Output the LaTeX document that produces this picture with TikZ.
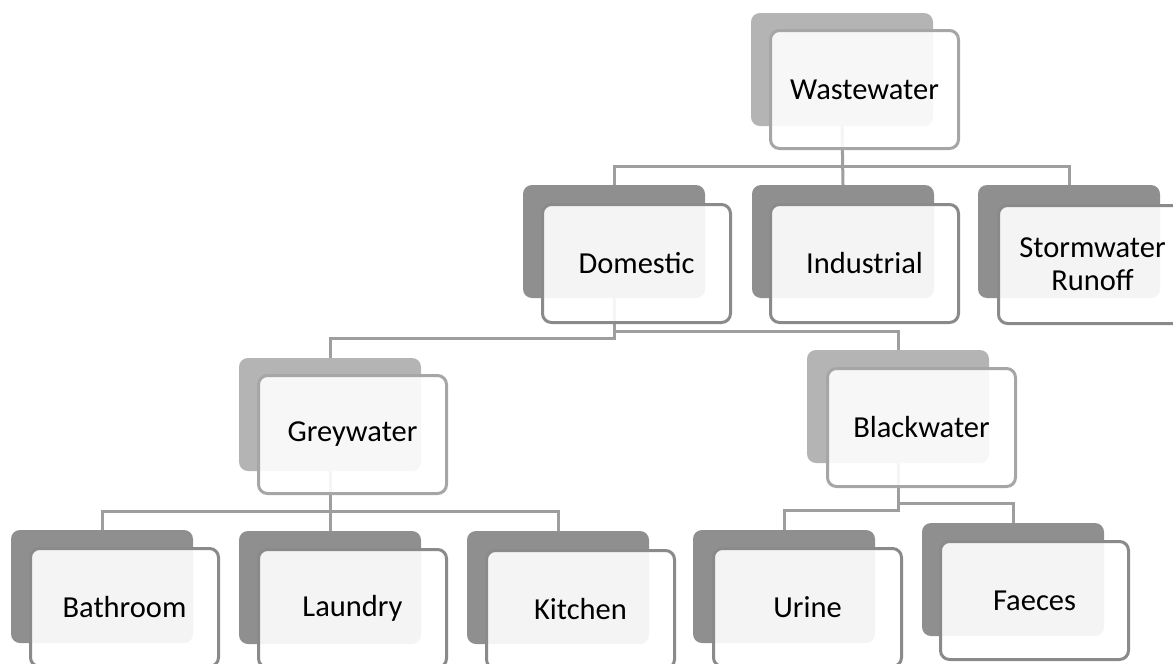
\documentclass[tikz,border=0pt]{standalone}
\usepackage{fontspec}
\setmainfont{Carlito}
\usetikzlibrary{calc}
\definecolor{backdark}{HTML}{8F8F8F}
\definecolor{backlight}{HTML}{B4B4B4}
\definecolor{edgedark}{HTML}{8A8A8A}
\definecolor{edgelight}{HTML}{A6A6A6}
\definecolor{linkgray}{HTML}{9E9E9E}
\begin{document}
\begin{tikzpicture}[x=1pt,y=-1pt,
  backbox/.style={rounded corners=9pt, minimum width=182pt, minimum height=113pt,
    anchor=north west, inner sep=0pt, outer sep=0pt},
  backdarkbox/.style={backbox, fill=backdark},
  backlightbox/.style={backbox, fill=backlight},
  frontbox/.style={rounded corners=9pt, minimum width=188pt, minimum height=118pt,
    anchor=north west, inner sep=0pt, fill=white, fill opacity=0.9, text opacity=1,
    line width=3pt, align=center, font=\fontsize{30.5}{33}\selectfont},
  frontdark/.style={frontbox, draw=edgedark},
  frontlight/.style={frontbox, draw=edgelight},
  link/.style={draw=linkgray, line width=3pt}
]
\useasboundingbox (0,0) rectangle (1173,664);
\clip (0,0) rectangle (1173,664);

% back cards
\node[backlightbox] (ww-b) at (751,13) {};
\node[backdarkbox]  (dom-b) at (523,185) {};
\node[backdarkbox]  (ind-b) at (752,185) {};
\node[backdarkbox]  (sto-b) at (978,185) {};
\node[backlightbox] (gre-b) at (239,358) {};
\node[backlightbox] (bla-b) at (807,350) {};
\node[backdarkbox]  (bat-b) at (11,530) {};
\node[backdarkbox]  (lau-b) at (239,531) {};
\node[backdarkbox]  (kit-b) at (467,531) {};
\node[backdarkbox]  (uri-b) at (693,530) {};
\node[backdarkbox]  (fae-b) at (922,523) {};

% tree connectors
\draw[link] (ww-b.south) -- ++(0,40) -| (dom-b.north);
\draw[link] (ww-b.south) -- ++(0,40) -| (sto-b.north);
\draw[link] (ww-b.south) -- (ind-b.north);

\draw[link] (dom-b.south) -- ++(0,40) -| (gre-b.north);
\draw[link] (dom-b.south) -- ++(0,33) -| (bla-b.north);

\draw[link] (gre-b.south) -- ++(0,40) -| (bat-b.north);
\draw[link] (gre-b.south) -- ++(0,40) -| (kit-b.north);
\draw[link] (gre-b.south) -- (lau-b.north);

\draw[link] (bla-b.south) -- ++(0,47) -| (uri-b.north);
\draw[link] (bla-b.south) -- ++(0,40) -| (fae-b.north);

% front cards
\node[frontlight] (ww)  at ($(ww-b.north west)+(18,16)$)  {Wastewater};
\node[frontdark]  (dom) at ($(dom-b.north west)+(18,18)$) {Domestic};
\node[frontdark]  (ind) at ($(ind-b.north west)+(17,18)$) {Industrial};
\node[frontdark]  (sto) at ($(sto-b.north west)+(19,19)$) {Stormwater\\Runoff};
\node[frontlight] (gre) at ($(gre-b.north west)+(18,16)$) {Greywater};
\node[frontlight] (bla) at ($(bla-b.north west)+(19,17)$) {Blackwater};
\node[frontdark]  (bat) at ($(bat-b.north west)+(18,17)$) {Bathroom};
\node[frontdark]  (lau) at ($(lau-b.north west)+(18,17)$) {Laundry};
\node[frontdark]  (kit) at ($(kit-b.north west)+(18,18)$) {Kitchen};
\node[frontdark]  (uri) at ($(uri-b.north west)+(19,17)$) {Urine};
\node[frontdark]  (fae) at ($(fae-b.north west)+(17,17)$) {Faeces};
\end{tikzpicture}
\end{document}
